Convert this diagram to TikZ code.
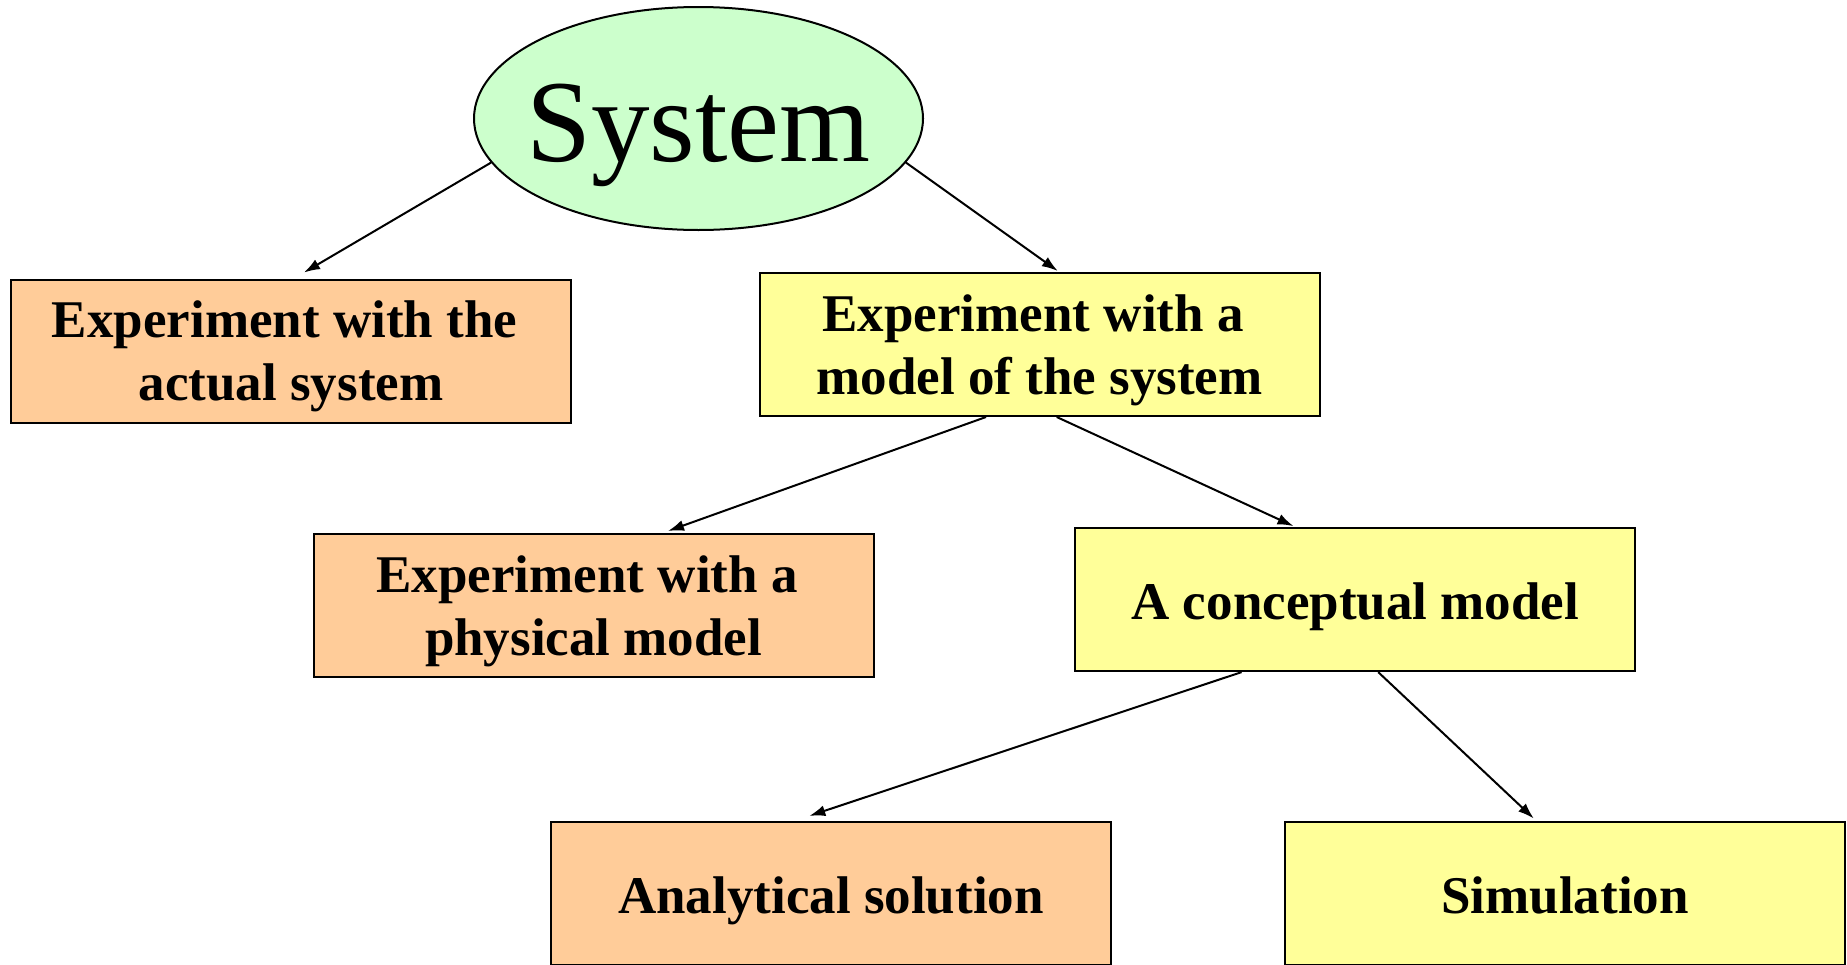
\documentclass[tikz,border=0pt]{standalone}
\usepackage{fontspec}
\setmainfont{Liberation Serif}
\usetikzlibrary{shapes.geometric,arrows.meta,calc}
\definecolor{peach}{HTML}{FFCC99}
\definecolor{lemon}{HTML}{FFFF99}
\definecolor{mint}{HTML}{CCFFCC}
\newcommand{\trail}{\hspace*{13pt}}
\tikzset{
  box/.style={draw=black, line width=2pt, minimum width=560pt, minimum height=143pt,
    inner sep=0pt, align=center, font=\bfseries\fontsize{53}{63}\selectfont},
  oneline/.style={text height=45pt, text depth=5pt},
  twoline/.style={text height=105pt, text depth=6pt},
  realbox/.style={box, fill=peach},
  modelbox/.style={box, fill=lemon},
  arr/.style={draw=black, line width=2pt, -{Latex[length=16pt,width=11pt]}},
}
\begin{document}
\begin{tikzpicture}[x=1pt,y=-1pt]
\useasboundingbox (0,0) rectangle (1847,964);
\clip (0,0) rectangle (1847,964);
\node[ellipse, draw=black, line width=2pt, fill=mint, minimum width=449pt, minimum height=223pt, inner sep=0pt] (sys) at (698.5,118.5) {};
\node[anchor=base, inner sep=0pt, font=\fontsize{117}{120}\selectfont] (systxt) at (698.5,161) {System};
\node[realbox, twoline] (b1) at (291,351) {Experiment with the\trail\\actual system};
\node[modelbox, twoline] (b2) at (1039.6,344.5) {Experiment with a\trail\\model of the system};
\node[realbox, twoline] (b3) at (593.6,605.5) {Experiment with a\trail\\physical model};
\node[modelbox, oneline] (b4) at (1355.2,599.6) {A conceptual model};
\node[realbox, oneline] (b5) at (831,893) {Analytical solution};
\node[modelbox, oneline] (b6) at (1565,893) {Simulation};
\draw[arr] (sys.192.7) -- ($(b1.north)+(13,-6)$);
\draw[arr] (sys.348.3) -- ($(b2.north)+(18.2,-1)$);
\draw[arr] ($(b2.south)+(-53.6,0)$) -- ($(b3.north)+(74.4,-2)$);
\draw[arr] ($(b2.south)+(17.1,0)$) -- ($(b4.north)+(-61.7,-1)$);
\draw[arr] ($(b4.south)+(-113.6,0)$) -- ($(b5.north)+(-21.7,-4.6)$);
\draw[arr] ($(b4.south)+(23,0)$) -- ($(b6.north)+(-31.2,-2)$);
\end{tikzpicture}
\end{document}
